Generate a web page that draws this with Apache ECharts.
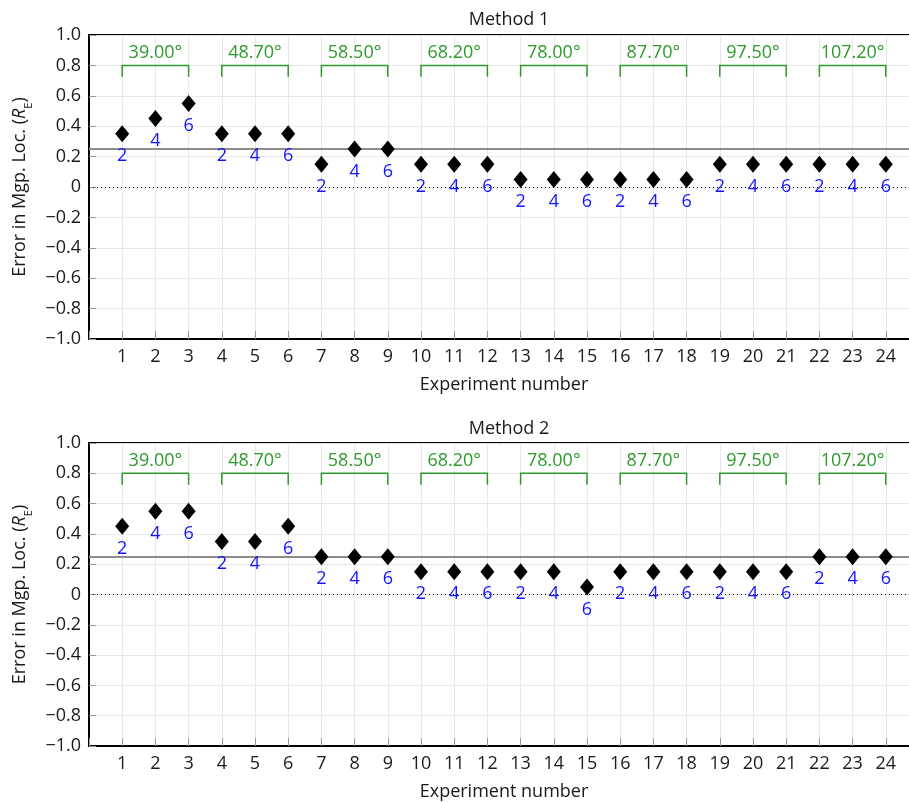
<!DOCTYPE html>
<html>
<head>
<meta charset="utf-8">
<script src="https://cdn.jsdelivr.net/npm/echarts@6/dist/echarts.min.js"></script>
<style>
  html, body { margin: 0; padding: 0; background: #fff; }
  #chart { width: 909px; height: 802px; }
</style>
</head>
<body>
<div id="chart"></div>
<script>
// experiment numbers 1..24
const experiments = [1, 2, 3, 4, 5, 6, 7, 8, 9, 10, 11, 12, 13, 14, 15, 16, 17, 18, 19, 20, 21, 22, 23, 24];
const method1 = [0.35, 0.45, 0.55, 0.35, 0.35, 0.35, 0.15, 0.25, 0.25, 0.15, 0.15, 0.15,
                 0.05, 0.05, 0.05, 0.05, 0.05, 0.05, 0.15, 0.15, 0.15, 0.15, 0.15, 0.15];
const method2 = [0.45, 0.55, 0.55, 0.35, 0.35, 0.45, 0.25, 0.25, 0.25, 0.15, 0.15, 0.15,
                 0.15, 0.15, 0.05, 0.15, 0.15, 0.15, 0.15, 0.15, 0.15, 0.25, 0.25, 0.25];
const pointTags = ['2', '4', '6'];
const angles = ['39.00°', '48.70°', '58.50°', '68.20°', '78.00°', '87.70°', '97.50°', '107.20°'];
const refLevel = 0.25;
const titles = ['Method 1', 'Method 2'];

const FONT = 'Open Sans';
const FS = 18;
const GREEN = '#2e9a2e';
const BLUE = '#1414ff';
const INK = '#1a1a1a';

const chart = echarts.init(document.getElementById('chart'), null, { renderer: 'canvas' });

// plot area runs past the right edge of the window, like the original
const grids = [
  { left: 89, width: 830, top: 35, height: 304 },
  { left: 89, width: 830, top: 443, height: 303 }
];

function fmtY(v) {
  if (Math.abs(v) < 1e-9) return '0';
  return v.toFixed(1).replace('-', '\u2212');
}

const xAxes = grids.map((g, i) => ({
  type: 'value', gridIndex: i, min: 0, max: 25, interval: 1,
  name: 'Experiment number', nameLocation: 'middle', nameGap: 37,
  nameTextStyle: { fontFamily: FONT, fontSize: FS, color: INK },
  axisLine: { onZero: false, lineStyle: { color: '#000', width: 2 } },
  axisTick: { inside: true, length: 8, lineStyle: { color: '#999' } },
  axisLabel: {
    fontFamily: FONT, fontSize: FS, color: INK, margin: 9,
    formatter: v => (v >= 1 && v <= 24) ? String(v) : ''
  },
  splitLine: { show: true, lineStyle: { color: '#e8e8e8', width: 1 } }
}));

const yAxes = grids.map((g, i) => ({
  type: 'value', gridIndex: i, min: -1, max: 1, interval: 0.2,
  name: '{a|Error in Mgp. Loc. (}{i|R}{s|E}{a|)}',
  nameLocation: 'middle', nameGap: 58, nameRotate: 90,
  nameTextStyle: {
    rich: {
      a: { fontFamily: FONT, fontSize: FS, color: INK, lineHeight: 22 },
      i: { fontFamily: FONT, fontSize: FS, color: INK, fontStyle: 'italic', lineHeight: 22 },
      s: { fontFamily: FONT, fontSize: 11, color: INK, verticalAlign: 'bottom', lineHeight: 22, padding: [0, 0, -3, 0] }
    }
  },
  axisLine: { show: true, onZero: false, lineStyle: { color: '#000', width: 2 } },
  axisTick: { show: true, inside: true, length: 7, lineStyle: { color: '#999' } },
  axisLabel: { fontFamily: FONT, fontSize: FS, color: INK, margin: 8, formatter: fmtY },
  splitLine: { show: true, lineStyle: { color: '#e8e8e8', width: 1 } }
}));

function pointSeries(values, i) {
  return {
    type: 'scatter', xAxisIndex: i, yAxisIndex: i,
    data: experiments.map((x, k) => [x, values[k]]),
    symbol: 'diamond', symbolSize: [14, 17],
    itemStyle: { color: '#000', opacity: 1 },
    label: {
      show: true, position: 'bottom', distance: 5,
      fontFamily: FONT, fontSize: FS, color: BLUE,
      formatter: p => pointTags[p.dataIndex % 3]
    },
    z: 5,
    markLine: {
      silent: true, symbol: 'none', label: { show: false },
      data: [
        { yAxis: refLevel, lineStyle: { color: '#8c8c8c', width: 2, type: 'solid' } },
        { yAxis: 0, lineStyle: { color: '#000', width: 1, type: [1, 3] } }
      ]
    }
  };
}

function bracketSeries(i) {
  return {
    type: 'custom', xAxisIndex: i, yAxisIndex: i,
    data: angles.map((a, k) => [experiments[3 * k], experiments[3 * k + 2]]),
    encode: { x: [0, 1] },
    silent: true,
    renderItem: (params, api) => {
      const x1 = api.value(0), x2 = api.value(1);
      const p1 = api.coord([x1, 0.725]);
      const p2 = api.coord([x1, 0.8]);
      const p3 = api.coord([x2, 0.8]);
      const p4 = api.coord([x2, 0.725]);
      const t = api.coord([(x1 + x2) / 2, 0.885]);
      return {
        type: 'group',
        children: [
          { type: 'polyline', shape: { points: [p1, p2, p3, p4] },
            style: { stroke: GREEN, lineWidth: 1.5, fill: null } },
          { type: 'text', x: t[0], y: t[1],
            style: { text: angles[params.dataIndex], fill: GREEN, fontFamily: FONT, fontSize: FS,
                     align: 'center', verticalAlign: 'middle' } }
        ]
      };
    }
  };
}

chart.setOption({
  animation: false,
  title: titles.map((t, i) => ({
    text: t, left: 504, textAlign: 'center', top: i === 0 ? 6 : 415,
    textStyle: { fontFamily: FONT, fontSize: FS, fontWeight: 'normal', color: INK }
  })),
  grid: grids.map(g => Object.assign({
    show: true, borderColor: '#000', borderWidth: 2, backgroundColor: 'transparent',
    outerBoundsMode: 'none', containLabel: false
  }, g)),
  xAxis: xAxes,
  yAxis: yAxes,
  series: [
    pointSeries(method1, 0), bracketSeries(0),
    pointSeries(method2, 1), bracketSeries(1)
  ]
});
</script>
</body>
</html>
